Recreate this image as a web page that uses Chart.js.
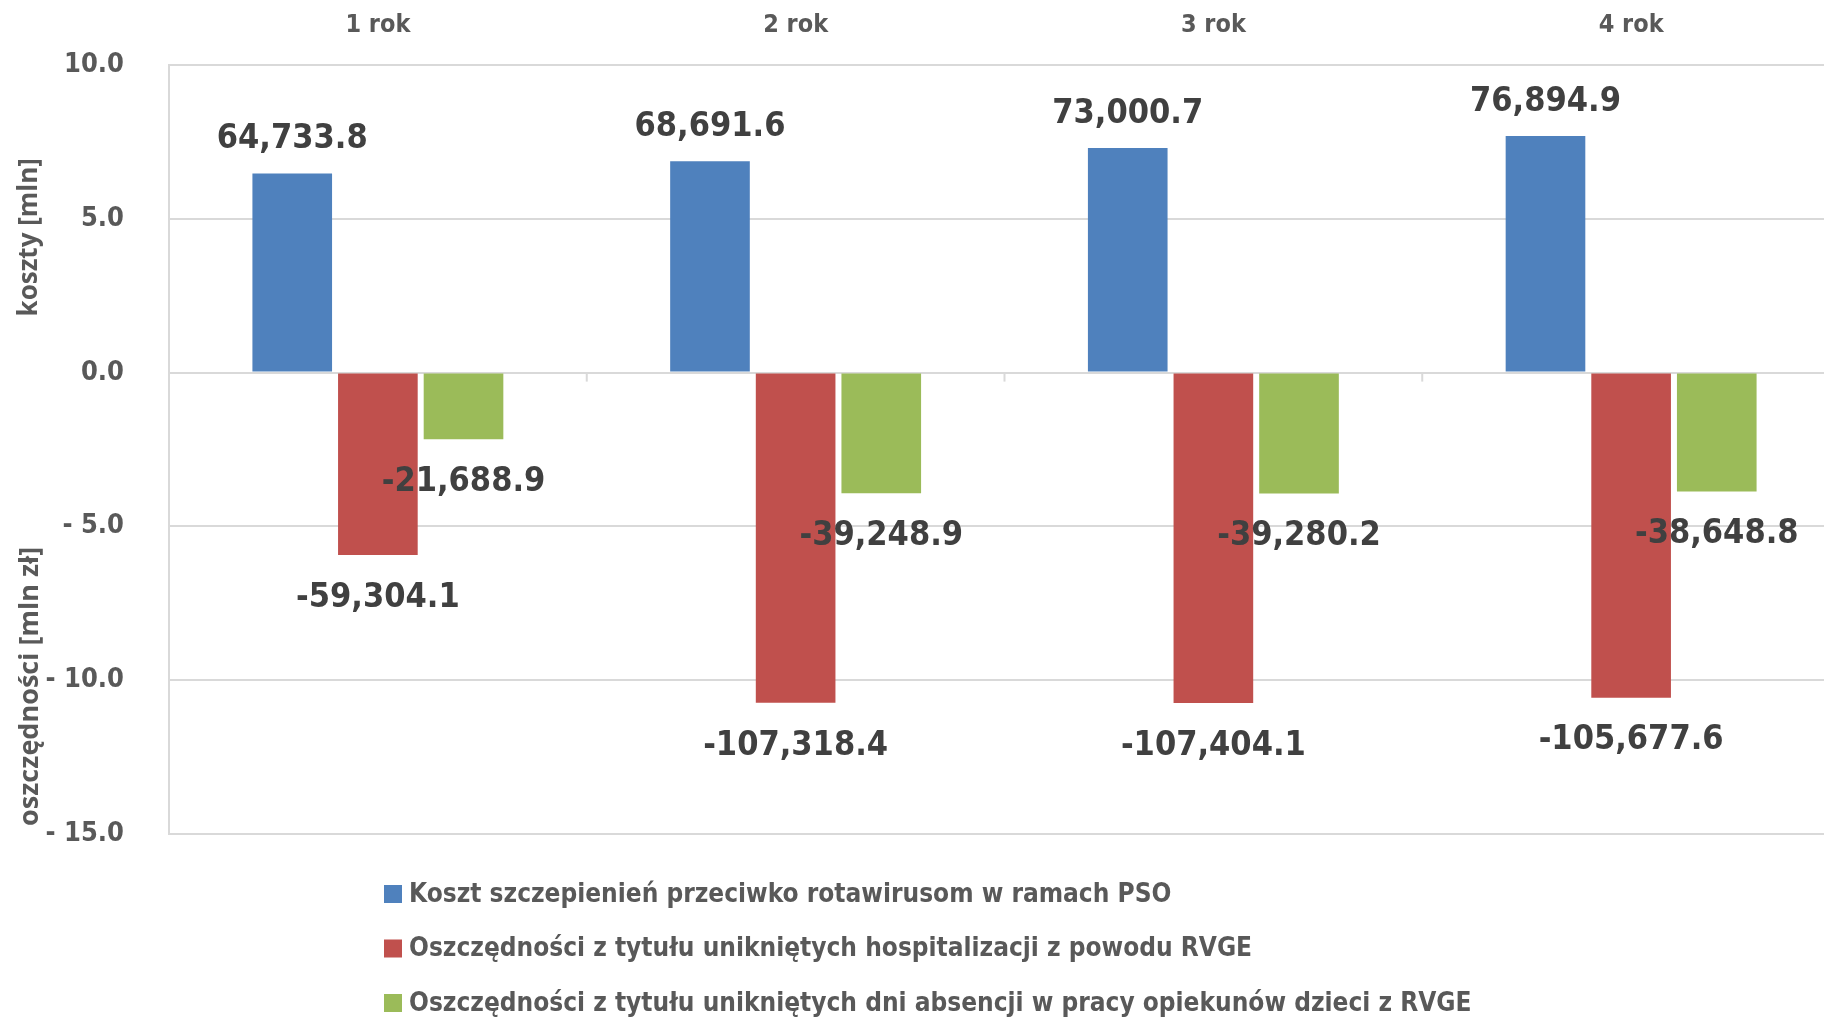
<!DOCTYPE html>
<html>
<head>
<meta charset="utf-8">
<script src="https://cdn.jsdelivr.net/npm/chart.js@4.4.1/dist/chart.umd.min.js"></script>
<style>
  body { margin: 0; background: #ffffff; overflow: hidden; }
  #wrap { width: 1824px; height: 1018px; overflow: hidden; }
</style>
</head>
<body>
<div id="wrap"><canvas id="chart" width="1840" height="1018"></canvas></div>
<script>
// Dane (tys. zł) - etykiety wartości; słupki w skali osi (/10000)
const years = ['1 rok', '2 rok', '3 rok', '4 rok'];
const vaccinationCost = [64733.8, 68691.6, 73000.7, 76894.9];
const hospitalSavings = [-59304.1, -107318.4, -107404.1, -105677.6];
const absenceSavings = [-21688.9, -39248.9, -39280.2, -38648.8];
const seriesNames = [
    'Koszt szczepienień przeciwko rotawirusom w ramach PSO',
    'Oszczędności z tytułu unikniętych hospitalizacji z powodu RVGE',
    'Oszczędności z tytułu unikniętych dni absencji w pracy opiekunów dzieci z RVGE'
];
const yMin = -15;
const yMax = 10;
const yStep = 5;

const FONT = "'DejaVu Sans Condensed', 'Liberation Sans Narrow', 'DejaVu Sans', sans-serif";
Chart.defaults.font.family = FONT;
Chart.defaults.color = '#595959';

const chartColors = {
    blue: '#4F81BD',
    red: '#C0504D',
    green: '#9BBB59',
    grid: '#d9d9d9',
    label: '#404040'
};

function fmt(v) {
    return v.toLocaleString('en-US', { minimumFractionDigits: 1, maximumFractionDigits: 1 });
}

// Etykiety wartości nad/pod słupkami
const valueLabels = {
    id: 'valueLabels',
    afterDatasetsDraw(chart) {
        const ctx = chart.ctx;
        ctx.save();
        ctx.font = 'bold 34px ' + FONT;
        ctx.fillStyle = chartColors.label;
        ctx.textAlign = 'center';
        ctx.textBaseline = 'middle';
        chart.data.datasets.forEach((ds, i) => {
            chart.getDatasetMeta(i).data.forEach((bar, j) => {
                const raw = ds.raw[j];
                const y = raw >= 0 ? bar.y - 34 : bar.y + 43;
                ctx.fillText(fmt(raw), bar.x, y);
            });
        });
        ctx.restore();
    }
};

// Tytuły osi Y, znaczniki kategorii i legenda
const extras = {
    id: 'extras',
    afterDraw(chart) {
        const ctx = chart.ctx;
        const area = chart.chartArea;
        const yScale = chart.scales.y;
        const xScale = chart.scales.x;
        ctx.save();

        // znaczniki między kategoriami na linii zera
        const zeroY = yScale.getPixelForValue(0);
        ctx.strokeStyle = chartColors.grid;
        ctx.lineWidth = 2;
        for (let i = 1; i < years.length; i++) {
            const x = (xScale.getPixelForTick(i - 1) + xScale.getPixelForTick(i)) / 2;
            ctx.beginPath();
            ctx.moveTo(x, zeroY);
            ctx.lineTo(x, zeroY + 9);
            ctx.stroke();
        }

        // tytuły osi
        ctx.fillStyle = '#595959';
        ctx.textAlign = 'center';
        ctx.textBaseline = 'middle';
        [['koszty [mln]', 4.4, 26], ['oszczędności [mln zł]', -10.2, 27]].forEach(([t, v, s]) => {
            ctx.save();
            ctx.font = "bold " + s + "px 'Open Sans', 'DejaVu Sans', sans-serif";
            ctx.translate(30, yScale.getPixelForValue(v));
            ctx.rotate(-Math.PI / 2);
            ctx.fillText(t, 0, 0);
            ctx.restore();
        });

        // legenda
        ctx.font = 'bold 26px ' + FONT;
        ctx.textAlign = 'left';
        chart.data.datasets.forEach((ds, i) => {
            const cy = area.bottom + 60 + i * 54.5;
            ctx.fillStyle = ds.backgroundColor;
            ctx.fillRect(area.left + 215, cy - 9, 18, 18);
            ctx.fillStyle = '#595959';
            ctx.fillText(ds.label, area.left + 240, cy + 1);
        });
        ctx.restore();
    }
};

function makeDataset(label, raw, color) {
    return {
        label: label,
        raw: raw,
        data: raw.map(v => v / 10000),
        backgroundColor: color,
        borderWidth: 0,
        categoryPercentage: 0.615,
        barPercentage: 0.93
    };
}

new Chart(document.getElementById('chart'), {
    type: 'bar',
    data: {
        labels: years,
        datasets: [
            makeDataset(seriesNames[0], vaccinationCost, chartColors.blue),
            makeDataset(seriesNames[1], hospitalSavings, chartColors.red),
            makeDataset(seriesNames[2], absenceSavings, chartColors.green)
        ]
    },
    options: {
        responsive: false,
        animation: false,
        layout: { padding: { top: 0, left: 0, right: 0, bottom: 184 } },
        plugins: {
            legend: { display: false },
            tooltip: { enabled: false }
        },
        scales: {
            x: {
                position: 'top',
                grid: { display: false, drawTicks: false },
                border: { display: false },
                ticks: {
                    color: '#595959',
                    font: { size: 25, weight: 'bold' },
                    padding: 25
                },
                afterFit: scale => { scale.height = 65; }
            },
            y: {
                min: yMin,
                max: yMax,
                grid: { color: chartColors.grid, lineWidth: 2, drawTicks: false },
                border: { color: chartColors.grid, width: 2 },
                ticks: {
                    stepSize: yStep,
                    color: '#595959',
                    font: { size: 27, weight: 'bold' },
                    padding: 45,
                    callback: v => v < 0 ? '- ' + Math.abs(v).toFixed(1) : v.toFixed(1)
                },
                afterFit: scale => { scale.width = 169; }
            }
        }
    },
    plugins: [valueLabels, extras]
});
</script>
</body>
</html>
